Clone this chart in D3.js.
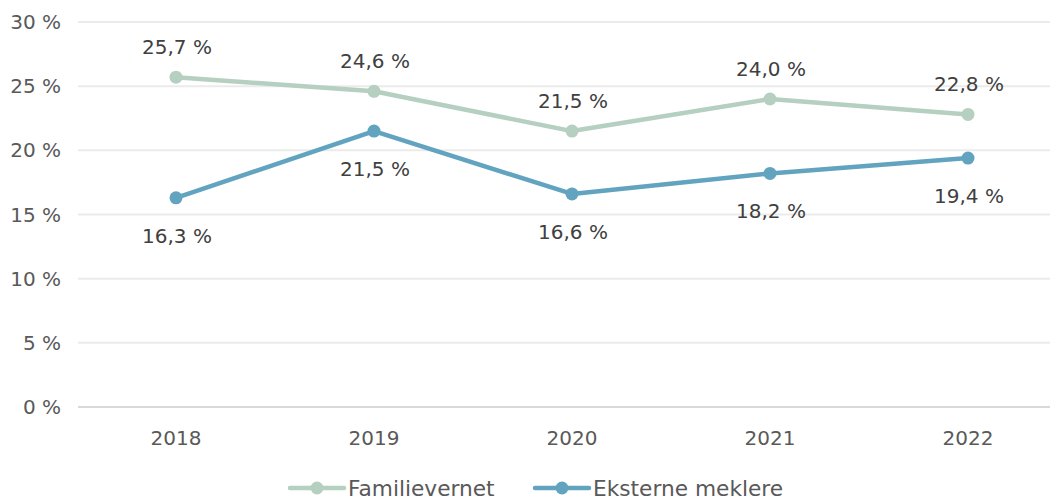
<!DOCTYPE html>
<html>
<head>
<meta charset="utf-8">
<script src="https://cdn.jsdelivr.net/npm/d3@7"></script>
<style>
  body { margin: 0; background: #fff; }
  svg text { font-family: "DejaVu Sans", sans-serif; }
</style>
</head>
<body>
<div id="chart"></div>
<script>
var years = ["2018", "2019", "2020", "2021", "2022"];
var familievernet = [25.7, 24.6, 21.5, 24.0, 22.8];
var eksterne = [16.3, 21.5, 16.6, 18.2, 19.4];
var yTicks = [0, 5, 10, 15, 20, 25, 30];

var series = [
  { name: "Familievernet", values: familievernet, color: "#b5cfc0", labelDy: -30 },
  { name: "Eksterne meklere", values: eksterne, color: "#62a4c0", labelDy: 38 }
];

var width = 1051, height = 499;
var margin = {top: 22, right: 1, bottom: 92, left: 78};

var svg = d3.select("#chart").append("svg")
    .attr("width", width)
    .attr("height", height);

// the category bands run a little past the right edge, as in the original
var x = d3.scaleBand()
    .domain(years)
    .range([margin.left - 1, 1067]);

var y = d3.scaleLinear()
    .domain([0, 30])
    .range([height - margin.bottom, margin.top]);

var fmt = function(v) { return d3.format(".1f")(v).replace(".", ",") + " %"; };
var cx = function(d, i) { return x(years[i]) + x.bandwidth() / 2; };

// grid
svg.append("g").selectAll("line")
    .data(yTicks)
    .enter().append("line")
    .attr("x1", margin.left)
    .attr("x2", width - margin.right)
    .attr("y1", function(d) { return y(d); })
    .attr("y2", function(d) { return y(d); })
    .attr("stroke", function(d) { return d === 0 ? "#d9d9d9" : "#ebebeb"; })
    .attr("stroke-width", 2);

// y labels
svg.append("g").selectAll("text")
    .data(yTicks)
    .enter().append("text")
    .attr("x", 61)
    .attr("y", function(d) { return y(d); })
    .attr("dy", "0.35em")
    .attr("text-anchor", "end")
    .attr("fill", "#595959")
    .style("font-size", "20px")
    .text(function(d) { return d + " %"; });

// x labels
svg.append("g").selectAll("text")
    .data(years)
    .enter().append("text")
    .attr("x", function(d) { return x(d) + x.bandwidth() / 2; })
    .attr("y", 438)
    .attr("dy", "0.35em")
    .attr("text-anchor", "middle")
    .attr("fill", "#595959")
    .style("font-size", "20px")
    .text(function(d) { return d; });

var line = d3.line()
    .x(cx)
    .y(function(d) { return y(d); });

series.forEach(function(s) {
  var g = svg.append("g");
  g.append("path")
      .datum(s.values)
      .attr("d", line)
      .attr("fill", "none")
      .attr("stroke", s.color)
      .attr("stroke-width", 4.5)
      .attr("stroke-linejoin", "round");
  g.selectAll("circle")
      .data(s.values)
      .enter().append("circle")
      .attr("cx", cx)
      .attr("cy", function(d) { return y(d); })
      .attr("r", 6.5)
      .attr("fill", s.color);
  g.selectAll("text")
      .data(s.values)
      .enter().append("text")
      .attr("x", function(d, i) { return cx(d, i) + 1; })
      .attr("y", function(d) { return y(d) + s.labelDy; })
      .attr("dy", "0.35em")
      .attr("text-anchor", "middle")
      .attr("fill", "#404040")
      .style("font-size", "20px")
      .text(fmt);
});

// legend
var legendX = [290, 535];
series.forEach(function(s, i) {
  var lg = svg.append("g").attr("transform", "translate(" + legendX[i] + ",488)");
  lg.append("line")
      .attr("x1", 0).attr("x2", 54)
      .attr("stroke", s.color)
      .attr("stroke-width", 4.5)
      .attr("stroke-linecap", "round");
  lg.append("circle")
      .attr("cx", 27).attr("r", 6.5)
      .attr("fill", s.color);
  lg.append("text")
      .attr("x", 58)
      .attr("dy", "0.35em")
      .attr("fill", "#595959")
      .style("font-size", "21.7px")
      .text(s.name);
});
</script>
</body>
</html>
